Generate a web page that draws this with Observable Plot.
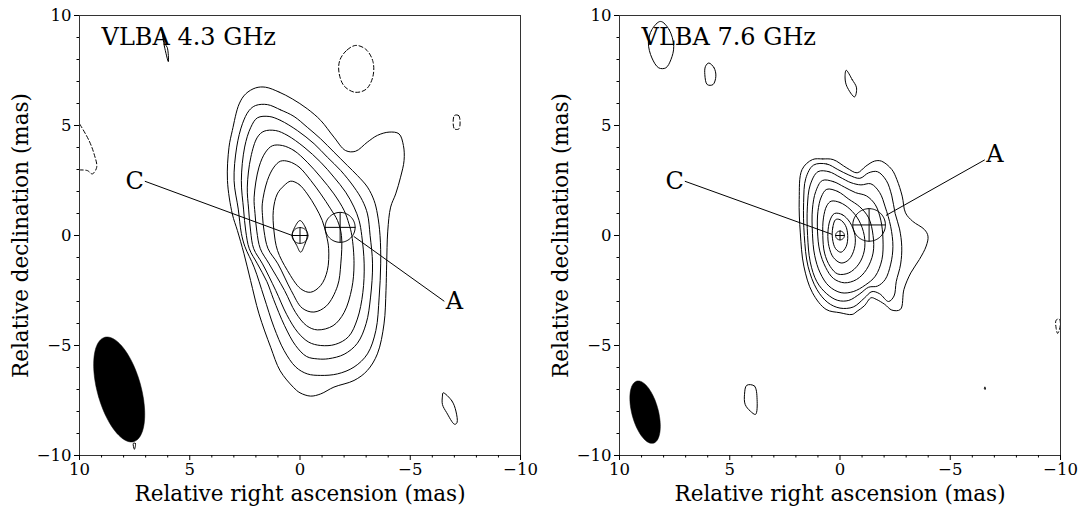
<!DOCTYPE html>
<html>
<head>
<meta charset="utf-8">
<script src="https://cdn.jsdelivr.net/npm/d3@7"></script>
<script src="https://cdn.jsdelivr.net/npm/@observablehq/plot@0.6"></script>
<style>
  body { margin: 0; background: white; }
  #row { display: flex; width: 1080px; }
</style>
</head>
<body>
<div id="row"></div>
<script>
// ---------- tick values ----------
const ticksMajor = [10, 5, 0, -5, -10];
const ticksMinor = [9, 8, 7, 6, 4, 3, 2, 1, -1, -2, -3, -4, -6, -7, -8, -9];

// ---------- titles / labels ----------
const titles = ["VLBA 4.3 GHz", "VLBA 7.6 GHz"];
const xLabel = "Relative right ascension (mas)";
const yLabel = "Relative declination (mas)";

// ---------- panel 1 (4.3 GHz) positive contours [RA, Dec] ----------
const p1c1 = [[1.56,6.74],[0.95,6.52],[0.35,6.21],[-0.33,5.76],[-0.94,5.23],[-1.54,4.47],[-2.07,3.86],[-2.52,3.83],[-3.05,4.24],[-3.51,4.55],[-4.04,4.70],[-4.49,4.62],[-4.69,4.09],[-4.72,3.41],[-4.56,2.65],[-4.34,1.89],[-4.11,1.29],[-3.98,0.2],[-3.93,-1.3],[-3.9,-2.5],[-3.81,-4.02],[-3.51,-5.38],[-3.05,-6.14],[-2.45,-6.59],[-1.54,-6.89],[-0.94,-7.2],[-0.48,-7.30],[0.0,-7.15],[0.3,-6.9],[0.9,-6.15],[1.33,-5.08],[1.86,-3.56],[2.24,-2.05],[2.54,-0.83],[2.84,0.23],[3.07,0.98],[3.29,2.5],[3.22,4.01],[3.07,4.77],[2.76,5.98],[2.46,6.44],[2.01,6.71]];
const p1c2 = [[1.48,5.95],[0.88,5.71],[0.27,5.41],[-0.33,4.92],[-0.94,4.39],[-1.54,3.79],[-2.15,3.18],[-2.6,2.73],[-3.06,2.2],[-3.36,1.59],[-3.51,0.98],[-3.63,0],[-3.66,-1.29],[-3.59,-2.8],[-3.44,-4.32],[-3.06,-5.38],[-2.45,-5.98],[-1.7,-6.29],[-0.94,-6.36],[-0.33,-6.29],[0.19,-5.98],[0.72,-5.23],[1.18,-4.17],[1.63,-2.8],[2.08,-1.44],[2.5,-0.5],[2.66,0.1],[2.8,1.2],[2.99,2.5],[2.87,4.02],[2.61,5.08],[2.31,5.68],[2.01,5.91]];
const p1c3 = [[1.40,5.41],[0.88,5.23],[0.12,4.77],[-0.64,4.17],[-1.24,3.56],[-1.85,2.95],[-2.45,2.2],[-2.83,1.59],[-3.06,0.98],[-3.18,0],[-3.29,-1.29],[-3.2,-2.8],[-3.0,-4.0],[-2.6,-4.9],[-2.0,-5.4],[-1.3,-5.6],[-0.8,-5.61],[-0.3,-5.5],[0.2,-5.0],[0.7,-4.1],[1.2,-2.9],[1.5,-2.1],[1.93,-1.29],[2.3,-0.6],[2.46,0.2],[2.56,1.2],[2.66,2.5],[2.51,4.02],[2.23,4.92],[1.93,5.35]];
const p1c4 = [[1.10,4.77],[0.57,4.55],[-0.18,4.02],[-0.94,3.33],[-1.54,2.65],[-2.07,1.97],[-2.45,1.29],[-2.68,0.68],[-2.8,0],[-2.91,-1.29],[-2.85,-2.6],[-2.6,-3.8],[-2.2,-4.6],[-1.6,-4.95],[-0.94,-5.0],[-0.4,-4.85],[0.1,-4.4],[0.6,-3.6],[1.1,-2.5],[1.7,-1.29],[2.1,-0.6],[2.24,0.2],[2.33,1.2],[2.39,2.2],[2.23,3.56],[1.93,4.47],[1.63,4.74]];
const p1c5 = [[0.8,4.09],[0.27,3.86],[-0.33,3.33],[-0.94,2.65],[-1.54,1.89],[-2.0,1.14],[-2.22,0.53],[-2.35,0],[-2.45,-1.29],[-2.35,-2.4],[-2.0,-3.5],[-1.5,-4.1],[-0.79,-4.29],[-0.3,-4.1],[0.2,-3.5],[0.7,-2.5],[1.4,-1.29],[1.8,-0.6],[1.96,0.2],[2.04,1.0],[2.08,1.74],[1.86,3.11],[1.56,3.79],[1.25,4.08]];
const p1c6 = [[0.5,3.36],[0.04,3.11],[-0.49,2.5],[-0.94,1.89],[-1.39,1.21],[-1.7,0.68],[-1.88,0],[-1.85,-1.29],[-1.7,-2.3],[-1.2,-3.2],[-0.63,-3.48],[-0.1,-3.3],[0.4,-2.5],[1.0,-1.29],[1.45,-0.6],[1.63,0.2],[1.7,0.9],[1.71,1.44],[1.48,2.5],[1.18,3.11],[0.88,3.38]];
const p1c7 = [[0.42,2.47],[0.04,2.32],[-0.33,1.89],[-0.71,1.29],[-1.01,0.68],[-1.2,0],[-1.3,-0.6],[-1.24,-1.59],[-0.94,-2.27],[-0.48,-2.58],[-0.03,-2.42],[0.57,-1.59],[1.02,-0.68],[1.18,0.2],[1.21,1.14],[1.03,1.89],[0.72,2.27]];
const p1c8 = [[0,0.68],[-0.25,0.35],[-0.33,0],[-0.2,-0.45],[-0.03,-0.76],[0.15,-0.45],[0.35,0],[0.25,0.35]];
const p1s1 = [[6.25,9.25],[6.15,8.6],[5.97,7.9],[6.02,8.55],[6.12,8.7]];
const p1s2 = [[-6.49,-7.15],[-6.89,-7.52],[-7.07,-7.98],[-7.12,-8.51],[-7.01,-8.58],[-6.65,-8.05],[-6.46,-7.68],[-6.46,-7.3]];
const p1s3 = [[7.56,-9.45],[7.46,-9.45],[7.51,-9.72]];
// negative (dashed) contours
const p1n1 = [[9.98,5.05],[9.57,4.32],[9.34,3.71],[9.22,3.1],[9.42,2.8],[9.64,2.95],[9.98,2.98]]; // open, clipped at edge
const p1n2 = [[-2.53,8.64],[-2.1,8.4],[-1.8,7.95],[-1.77,7.4],[-2.0,6.8],[-2.5,6.51],[-3.0,6.65],[-3.3,7.2],[-3.31,7.9],[-3.0,8.45]];
const p1n3 = [[-7.0,5.45],[-7.2,5.45],[-7.21,4.85],[-7.0,4.85]];

// ---------- panel 2 (7.6 GHz) positive contours ----------
const p2c1 = [[1.25,3.45],[0.78,3.48],[0.31,3.45],[-0.31,3.07],[-0.78,2.85],[-1.17,3.15],[-1.56,3.38],[-1.88,3.38],[-2.35,3.0],[-2.58,2.54],[-2.82,1.79],[-2.97,1.03],[-3.29,0.65],[-3.83,0.27],[-3.99,-0.03],[-3.91,-0.48],[-3.6,-1.09],[-3.21,-1.7],[-2.9,-2.45],[-2.74,-3.36],[-2.35,-3.39],[-2.03,-3.13],[-1.64,-2.9],[-1.41,-2.83],[-1.1,-3.2],[-0.78,-3.44],[-0.55,-3.59],[0,-3.51],[0.63,-3.36],[1.25,-2.6],[1.64,-1.39],[1.8,0.12],[1.85,1.64],[1.72,3.0]];
const p2c2 = [[1.2,3.2],[0.6,3.25],[0.1,3.0],[-0.4,2.75],[-0.9,2.6],[-1.3,2.85],[-1.7,2.9],[-2.1,2.5],[-2.35,1.8],[-2.5,1.0],[-2.7,0.3],[-2.8,-0.5],[-2.75,-1.3],[-2.55,-2.1],[-2.45,-2.75],[-2.2,-3.0],[-1.8,-2.65],[-1.45,-2.55],[-1.1,-2.85],[-0.6,-3.25],[0.0,-3.3],[0.55,-3.05],[1.05,-2.45],[1.45,-1.4],[1.62,0.0],[1.65,1.5],[1.55,2.6]];
const p2c3 = [[1.0,2.9],[0.5,2.9],[0.0,2.65],[-0.5,2.4],[-0.95,2.3],[-1.4,2.35],[-1.8,1.95],[-2.05,1.3],[-2.3,0.4],[-2.4,-0.5],[-2.3,-1.3],[-2.05,-2.0],[-1.7,-2.3],[-1.3,-2.35],[-0.9,-2.65],[-0.4,-2.95],[0.1,-2.95],[0.6,-2.65],[1.05,-2.1],[1.35,-1.2],[1.47,0.0],[1.48,1.3],[1.35,2.3]];
const p2c4 = [[0.8,2.5],[0.3,2.45],[-0.2,2.2],[-0.7,1.95],[-1.2,1.8],[-1.6,1.4],[-1.85,0.7],[-1.95,-0.2],[-1.9,-1.1],[-1.6,-1.85],[-1.15,-2.25],[-0.6,-2.55],[-0.05,-2.6],[0.5,-2.3],[0.9,-1.7],[1.15,-0.9],[1.25,0.1],[1.25,1.2],[1.1,2.0]];
const p2c5 = [[0.6,2.1],[0.1,2.0],[-0.4,1.65],[-0.9,1.3],[-1.3,0.8],[-1.5,0.0],[-1.5,-0.8],[-1.2,-1.55],[-0.75,-2.0],[-0.2,-2.15],[0.3,-1.95],[0.65,-1.45],[0.92,-0.7],[1.02,0.2],[1.0,1.1],[0.85,1.75]];
const p2c6 = [[0.4,1.56],[0.0,1.5],[-0.45,1.2],[-0.85,0.7],[-1.1,0.0],[-1.1,-0.7],[-0.85,-1.3],[-0.4,-1.7],[0.1,-1.75],[0.45,-1.4],[0.7,-0.8],[0.78,0.0],[0.75,0.8],[0.6,1.35]];
const p2c7 = [[0.25,1.0],[-0.1,0.95],[-0.45,0.6],[-0.68,0.0],[-0.65,-0.6],[-0.4,-1.1],[-0.05,-1.25],[0.3,-1.0],[0.5,-0.5],[0.55,0.1],[0.45,0.7]];
const p2c8 = [[0.2,0.72],[0.33,0.35],[0.34,-0.15],[0.2,-0.6],[-0.05,-0.76],[-0.28,-0.5],[-0.35,0.0],[-0.25,0.45],[0.0,0.72]];
const p2s1 = [[8.14,9.73],[7.75,9.36],[7.54,8.6],[7.67,7.99],[7.9,7.62],[8.22,7.62],[8.53,8.07],[8.69,8.75],[8.53,9.36]];
const p2s2 = [[5.95,7.84],[5.71,7.62],[5.63,7.24],[5.76,6.86],[6.02,6.86],[6.13,7.31],[6.1,7.69]];
const p2s3 = [[-0.28,7.51],[-0.55,7.09],[-0.75,6.71],[-0.66,6.3],[-0.31,6.78],[-0.23,7.16]];
const p2s4 = [[4.23,-6.81],[3.88,-6.84],[3.76,-7.45],[3.83,-8.13],[4.07,-7.98],[4.3,-7.68],[4.33,-7.22]];
const p2s5 = [[-6.57,-6.88],[-6.6,-6.98],[-6.55,-6.98]];
const p2n1 = [[-9.8,-3.85],[-9.95,-3.8],[-9.99,-4.1],[-9.87,-4.45],[-9.8,-4.2]];

// ---------- components, beams, label positions ----------
const compC = [{x: 0, y: 0, r: 0.36}, {x: 0, y: 0, r: 0.2}];
const compA = [{x: -1.82, y: 0.37, r: 0.68}, {x: -1.32, y: 0.48, r: 0.74}];
const beams = [{x: 8.2, y: -7.0, a: 2.46, b: 0.99, pa: 15.5}, {x: 8.84, y: -8.03, a: 1.46, b: 0.60, pa: 14.9}];
const labelC = [{x: 7.5, y: 2.46}, {x: 7.5, y: 2.46}];
const labelA = [{x: -7.0, y: -3.0}, {x: -7.03, y: 3.7}];
const leaderC = [[[7.02, 2.46], [0.35, 0.0]], [[7.02, 2.46], [0.38, 0.06]]];
const leaderA = [[[-2.45, -0.05], [-6.53, -2.98]], [[-2.1, 0.92], [-6.55, 3.43]]];

const positive = [[p1c1,p1c2,p1c3,p1c4,p1c5,p1c6,p1c7,p1c8,p1s1,p1s2,p1s3],
                  [p2c1,p2c2,p2c3,p2c4,p2c5,p2c6,p2c7,p2c8,p2s1,p2s2,p2s3,p2s4,p2s5]];
const negClosed = [[p1n2, p1n3], [p2n1]];
const negOpen = [[p1n1], []];

// geometry helper: outline of an ellipse from its parameters
function ellipse(cx, cy, a, b, paDeg, n = 90) {
  const t = paDeg * Math.PI / 180, pts = [];
  for (let i = 0; i < n; i++) {
    const s = 2 * Math.PI * i / n;
    const u = a * Math.cos(s), v = b * Math.sin(s);
    pts.push({x: cx + u * Math.sin(t) + v * Math.cos(t), y: cy + u * Math.cos(t) - v * Math.sin(t)});
  }
  return pts;
}
const toRows = (list) => list.flatMap((ring, i) => ring.map(([x, y]) => ({id: i, x, y})));
const segRows = (segs) => segs.flatMap((s, i) => s.map(([x, y]) => ({id: i, x, y})));

function panel(k) {
  const A = compA[k], C = compC[k], B = beams[k];
  const markerRows = [
    ...ellipse(A.x, A.y, A.r, A.r, 0).map(d => ({...d, id: 0})),
    ...ellipse(C.x, C.y, C.r, C.r, 0).map(d => ({...d, id: 1}))
  ];
  const crossRows = segRows([
    [[A.x + A.r, A.y], [A.x - A.r, A.y]], [[A.x, A.y + A.r], [A.x, A.y - A.r]],
    [[C.x + C.r, C.y], [C.x - C.r, C.y]], [[C.x, C.y + C.r], [C.x, C.y - C.r]],
    leaderC[k], leaderA[k]
  ]);
  return Plot.plot({
    width: 540, height: 506,
    marginLeft: 79, marginRight: 20, marginTop: 15, marginBottom: 51,
    x: {domain: [10, -10]},
    y: {domain: [-10, 10]},
    style: {fontFamily: "DejaVu Serif", fontSize: "16.5px", background: "white", color: "black", overflow: "visible"},
    marks: [
      Plot.line(ellipse(B.x, B.y, B.a, B.b, B.pa), {x: "x", y: "y", curve: "linear-closed", fill: "black", stroke: "black", strokeWidth: 0.5}),
      Plot.line(toRows(positive[k]), {x: "x", y: "y", z: "id", curve: "catmull-rom-closed", stroke: "black", strokeWidth: 1}),
      Plot.line(toRows(negClosed[k]), {x: "x", y: "y", z: "id", curve: "catmull-rom-closed", stroke: "black", strokeWidth: 1, strokeDasharray: "4,2.5"}),
      Plot.line(toRows(negOpen[k]), {x: "x", y: "y", z: "id", curve: "catmull-rom", stroke: "black", strokeWidth: 1, strokeDasharray: "4,2.5"}),
      Plot.line(markerRows, {x: "x", y: "y", z: "id", curve: "linear-closed", stroke: "black", strokeWidth: 1}),
      Plot.line(crossRows, {x: "x", y: "y", z: "id", stroke: "black", strokeWidth: 1}),
      Plot.text([titles[k]], {x: 9.0, y: 9.0, text: d => d, textAnchor: "start", fontSize: 24}),
      Plot.text([labelC[k]], {x: "x", y: "y", text: () => "C", fontSize: 24}),
      Plot.text([labelA[k]], {x: "x", y: "y", text: () => "A", fontSize: 24}),
      Plot.frame({stroke: "#333", strokeWidth: 1}),
      Plot.axisX(ticksMajor, {tickSize: 5, tickPadding: 3, label: null, fontSize: 16.5}),
      Plot.axisX(ticksMinor, {tickSize: 2.5, text: null, label: null}),
      Plot.axisY(ticksMajor, {tickSize: 5, tickPadding: 3, label: null, fontSize: 16.5}),
      Plot.axisY(ticksMinor, {tickSize: 2.5, text: null, label: null}),
      Plot.text([xLabel], {frameAnchor: "bottom", dy: 39, lineAnchor: "middle", textAnchor: "middle", text: d => d, fontSize: 21.5}),
      Plot.text([yLabel], {frameAnchor: "left", dx: -58, rotate: -90, lineAnchor: "middle", textAnchor: "middle", text: d => d, fontSize: 21.5})
    ]
  });
}

const row = document.getElementById("row");
row.appendChild(panel(0));
row.appendChild(panel(1));
</script>
</body>
</html>
